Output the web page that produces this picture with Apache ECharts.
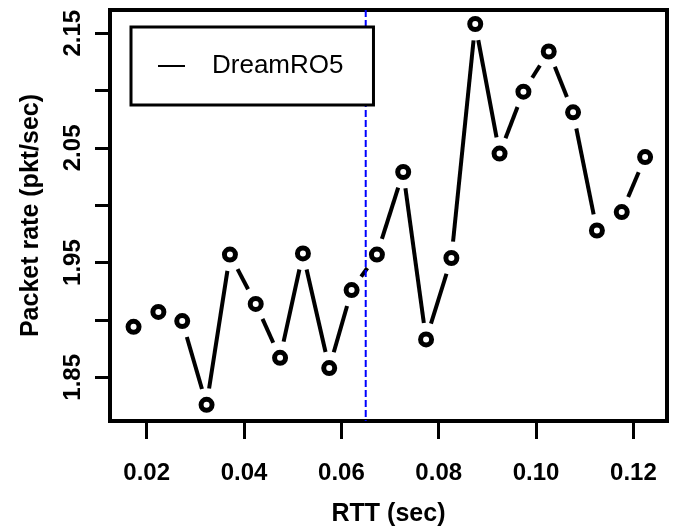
<!DOCTYPE html>
<html lang="en" style="height: 100%">
<head>
  <meta charset="utf-8" />
  <title>DreamRO5 packet rate vs RTT</title>
</head>
<body style="height: 100%; margin: 0; background: #fff">
  <div id="container" style="width: 687px; height: 529px"></div>

  <script type="text/javascript" src="https://fastly.jsdelivr.net/npm/echarts@6.0.0/dist/echarts.min.js"></script>
  <script type="text/javascript">
    // RTT (sec) and packet rate (pkt/sec)
    var rtt = [0.0173, 0.0224, 0.0273, 0.0323, 0.0371, 0.0424, 0.0474, 0.0521, 0.0575, 0.0621, 0.0673,
               0.0727, 0.0774, 0.0826, 0.0875, 0.0925, 0.0974, 0.1026, 0.1076, 0.1125, 0.1176, 0.1224];
    var rate = [1.894, 1.907, 1.899, 1.826, 1.957, 1.914, 1.867, 1.958, 1.858, 1.926, 1.957,
                2.029, 1.883, 1.954, 2.158, 2.045, 2.099, 2.134, 2.081, 1.978, 1.994, 2.042];
    var seriesName = 'DreamRO5';
    var cutoff = [0.065];   // blue dashed line

    var xTicks = [0.02, 0.04, 0.06, 0.08, 0.10, 0.12];
    var yTicks = [1.85, 1.90, 1.95, 2.00, 2.05, 2.10, 2.15];
    var yLabels = [1.85, 1.95, 2.05, 2.15];

    var xRange = [0.01246, 0.1269];
    var yRange = [1.8119, 2.1702];

    var font = "'Liberation Sans', Arial, sans-serif";
    var gap = 16.5;   // R type="b" gap around points

    var points = rtt.map(function (x, i) { return [x, rate[i]]; });
    var segments = [];
    for (var i = 0; i < rtt.length - 1; i++) {
      segments.push([rtt[i], rate[i], rtt[i + 1], rate[i + 1]]);
    }

    var dom = document.getElementById('container');
    var myChart = echarts.init(dom, null, { renderer: 'canvas' });

    var option = {
      animation: false,
      backgroundColor: '#fff',
      grid: {
        left: 110, right: 20, top: 10, bottom: 108,
        outerBoundsMode: 'none',
        containLabel: false,
        show: true, borderColor: '#000', borderWidth: 4, backgroundColor: 'transparent'
      },
      legend: {
        data: [seriesName],
        left: 131,
        top: 27,
        z: 10,
        orient: 'vertical',
        padding: [26, 30, 26, 27],
        backgroundColor: '#fff',
        borderColor: '#000',
        borderWidth: 3,
        icon: 'rect',
        itemWidth: 27,
        itemHeight: 2,
        itemStyle: { color: '#000' },
        textStyle: { fontFamily: font, fontSize: 26, color: '#000', padding: [0, 0, 0, 22] }
      },
      xAxis: {
        type: 'value',
        min: xRange[0],
        max: xRange[1],
        name: 'RTT (sec)',
        nameLocation: 'middle',
        nameGap: 81,
        nameTextStyle: { fontFamily: font, fontSize: 25, fontWeight: 'bold', color: '#000' },
        axisLine: { show: false },
        axisTick: {
          show: true, customValues: xTicks, length: 18, inside: false,
          lineStyle: { color: '#000', width: 3 }
        },
        axisLabel: {
          customValues: xTicks, margin: 40,
          fontFamily: font, fontSize: 24, fontWeight: 'bold', color: '#000',
          formatter: function (v) { return v.toFixed(2); }
        },
        splitLine: { show: false }
      },
      yAxis: {
        type: 'value',
        min: yRange[0],
        max: yRange[1],
        name: 'Packet rate (pkt/sec)',
        nameLocation: 'middle',
        nameGap: 66,
        nameTextStyle: { fontFamily: font, fontSize: 25, fontWeight: 'bold', color: '#000' },
        axisLine: { show: false },
        axisTick: {
          show: true, customValues: yTicks, length: 15, inside: false,
          lineStyle: { color: '#000', width: 3 }
        },
        axisLabel: {
          customValues: yLabels, margin: 25, rotate: 90,
          fontFamily: font, fontSize: 24, fontWeight: 'bold', color: '#000',
          formatter: function (v) { return v.toFixed(2); }
        },
        splitLine: { show: false }
      },
      series: [
        {
          name: seriesName,
          type: 'custom',
          data: segments,
          encode: { x: [0, 2], y: [1, 3] },
          itemStyle: { color: '#000' },
          renderItem: function (params, api) {
            var p0 = api.coord([api.value(0), api.value(1)]);
            var p1 = api.coord([api.value(2), api.value(3)]);
            var dx = p1[0] - p0[0], dy = p1[1] - p0[1];
            var len = Math.sqrt(dx * dx + dy * dy);
            if (len <= 2 * gap) return { type: 'group', children: [] };
            var ux = dx / len, uy = dy / len;
            return {
              type: 'line',
              shape: {
                x1: p0[0] + ux * gap, y1: p0[1] + uy * gap,
                x2: p1[0] - ux * gap, y2: p1[1] - uy * gap
              },
              style: { stroke: '#000', lineWidth: 4, lineCap: 'butt' }
            };
          },
          z: 2
        },
        {
          name: 'points',
          type: 'scatter',
          data: points,
          symbol: 'circle',
          symbolSize: 11,
          itemStyle: { color: '#fff', borderColor: '#000', borderWidth: 5, opacity: 1 },
          z: 3
        },
        {
          name: 'cutoff',
          type: 'custom',
          data: cutoff.map(function (x) { return [x, yRange[0]]; }),
          encode: { x: 0, y: 1 },
          renderItem: function (params, api) {
            var cs = params.coordSys;
            var px = api.coord([api.value(0), yRange[0]])[0];
            return {
              type: 'line',
              shape: { x1: px, y1: cs.y, x2: px, y2: cs.y + cs.height },
              style: { stroke: '#0000ff', lineWidth: 2, lineDash: [7, 3] }
            };
          },
          z: 3
        }
      ]
    };

    myChart.setOption(option);
    window.addEventListener('resize', myChart.resize);
  </script>
</body>
</html>
